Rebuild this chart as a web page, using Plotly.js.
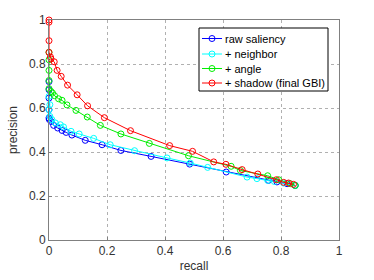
<!DOCTYPE html>
<html>
<head>
<meta charset="utf-8">
<script src="https://cdn.plot.ly/plotly-3.0.1.min.js"></script>
<style>html,body{margin:0;padding:0;background:#fff;}#chart{width:374px;height:280px;}</style>
</head>
<body>
<div id="chart"></div>
<script>
const seriesNames = ["raw saliency", "+ neighbor", "+ angle", "+ shadow (final GBI)"];
const seriesColors = ["#0000ff", "#00ffff", "#00ee00", "#ff0000"];

const rawRecall = [0, 0, 0, 0, 0, 0.001, 0.007, 0.016, 0.03, 0.045, 0.059, 0.079, 0.125, 0.183, 0.248, 0.352, 0.485, 0.611, 0.757, 0.786, 0.821, 0.849];
const rawPrecision = [0.72, 0.683, 0.645, 0.592, 0.555, 0.548, 0.539, 0.521, 0.509, 0.498, 0.489, 0.477, 0.453, 0.433, 0.407, 0.38, 0.345, 0.309, 0.271, 0.264, 0.256, 0.248];

const nbRecall = [0, 0.003, 0, 0.003, 0.01, 0.022, 0.039, 0.05, 0.076, 0.104, 0.154, 0.211, 0.295, 0.407, 0.487, 0.547, 0.683, 0.717, 0.754, 0.777, 0.809, 0.849];
const nbPrecision = [0.653, 0.615, 0.592, 0.562, 0.547, 0.532, 0.524, 0.514, 0.494, 0.482, 0.462, 0.433, 0.406, 0.373, 0.35, 0.33, 0.286, 0.279, 0.271, 0.266, 0.259, 0.248];

const angRecall = [0, 0, 0, 0, 0, 0.007, 0.012, 0.019, 0.033, 0.045, 0.062, 0.093, 0.132, 0.177, 0.248, 0.346, 0.481, 0.628, 0.66, 0.754, 0.792, 0.832, 0.849];
const angPrecision = [0.853, 0.819, 0.771, 0.725, 0.688, 0.675, 0.668, 0.656, 0.642, 0.635, 0.614, 0.589, 0.559, 0.521, 0.482, 0.439, 0.383, 0.335, 0.316, 0.292, 0.274, 0.256, 0.248];

const shRecall = [0, 0, 0, 0, 0.005, 0.007, 0.018, 0.028, 0.042, 0.064, 0.097, 0.133, 0.191, 0.281, 0.416, 0.495, 0.568, 0.61, 0.666, 0.72, 0.784, 0.809, 0.826, 0.843];
const shPrecision = [1.0, 0.99, 0.906, 0.853, 0.832, 0.823, 0.81, 0.771, 0.744, 0.704, 0.66, 0.61, 0.556, 0.497, 0.429, 0.403, 0.355, 0.344, 0.32, 0.30, 0.274, 0.262, 0.259, 0.253];

const xTicks = [0, 0.2, 0.4, 0.6, 0.8, 1];
const yTicks = [0, 0.2, 0.4, 0.6, 0.8, 1];

const xs = [rawRecall, nbRecall, angRecall, shRecall];
const ys = [rawPrecision, nbPrecision, angPrecision, shPrecision];

const traces = xs.map((x, i) => ({
  x: x, y: ys[i], type: "scatter", mode: "lines+markers", name: seriesNames[i],
  line: {color: seriesColors[i], width: 1},
  marker: {symbol: "circle-open", size: 6, color: seriesColors[i], line: {width: 1}},
  cliponaxis: false
}));

// Plot area geometry (pixels)
const W = 374, H = 280, ML = 49, MR = 35, MT = 20, MB = 40;
const PW = W - ML - MR, PH = H - MT - MB;
const px = v => (v - ML) / PW;        // pixel x -> paper x
const py = v => (H - MB - v) / PH;    // pixel y -> paper y

// Custom MATLAB-style legend box
const legLeft = 199, legRight = 328, legTop = 28, legBottom = 91;
const rowY = [38.5, 54, 68.5, 83];
const shapes = [{
  type: "rect", xref: "paper", yref: "paper",
  x0: px(legLeft), x1: px(legRight), y0: py(legBottom), y1: py(legTop),
  fillcolor: "#fff", line: {color: "#000", width: 1}, layer: "above"
}];
const annotations = [];
seriesNames.forEach((name, i) => {
  const c = seriesColors[i];
  shapes.push({type: "line", xref: "paper", yref: "paper",
    x0: px(202), x1: px(222), y0: py(rowY[i]), y1: py(rowY[i]),
    line: {color: c, width: 1}, layer: "above"});
  shapes.push({type: "circle", xref: "paper", yref: "paper",
    x0: px(212 - 3), x1: px(212 + 3), y0: py(rowY[i] + 3), y1: py(rowY[i] - 3),
    line: {color: c, width: 1}, fillcolor: "rgba(0,0,0,0)", layer: "above"});
  annotations.push({xref: "paper", yref: "paper", x: px(223), y: py(rowY[i]),
    xanchor: "left", yanchor: "middle", text: name, showarrow: false,
    font: {family: "Liberation Sans, Arial, sans-serif", size: 11, color: "#000"}});
});

const axisCommon = {
  showgrid: true, gridcolor: "#b0b0b0", griddash: "dot", gridwidth: 1,
  showline: true, linecolor: "#808080", linewidth: 1, mirror: true,
  zeroline: false, ticks: "inside", ticklen: 3, tickcolor: "#808080",
  tickfont: {family: "Liberation Sans, Arial, sans-serif", size: 12, color: "#333"}
};

const layout = {
  width: W, height: H,
  margin: {l: ML, r: MR, t: MT, b: MB},
  paper_bgcolor: "#fff", plot_bgcolor: "#fff",
  font: {family: "Liberation Sans, Arial, sans-serif", size: 12, color: "#333"},
  xaxis: Object.assign({}, axisCommon, {range: [0, 1], tickvals: xTicks, ticktext: xTicks.map(String),
    title: {text: "recall", standoff: 4, font: {size: 12, color: "#333"}}}),
  yaxis: Object.assign({}, axisCommon, {range: [0, 1], tickvals: yTicks, ticktext: yTicks.map(String),
    title: {text: "precision", standoff: 8, font: {size: 12, color: "#333"}}}),
  showlegend: false,
  shapes: shapes,
  annotations: annotations
};

Plotly.newPlot("chart", traces, layout, {displayModeBar: false, staticPlot: true});
</script>
</body>
</html>
